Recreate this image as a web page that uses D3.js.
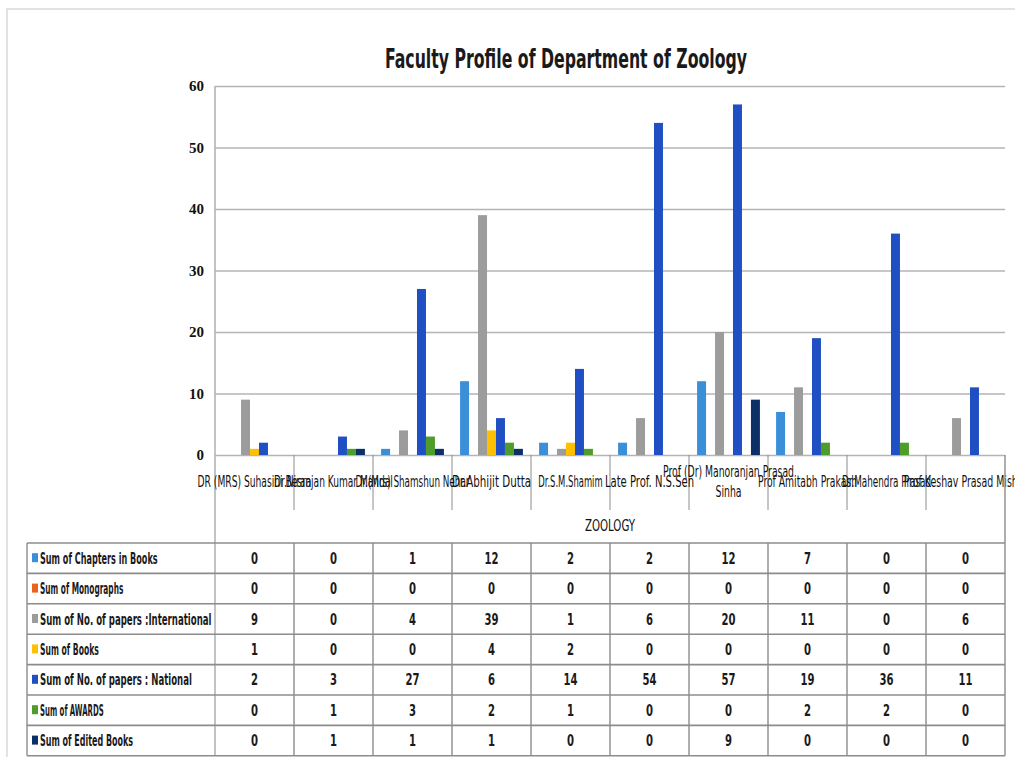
<!DOCTYPE html>
<html>
<head>
<meta charset="utf-8">
<script src="https://cdn.jsdelivr.net/npm/d3@7"></script>
<style>
  body { margin: 0; background: #fff; }
  svg { display: block; }
</style>
</head>
<body>
<svg id="chart"></svg>
<script>
// faculty names (x categories)
const faculty = [
  "DR (MRS) Suhasini Besra",
  "Dr.Niranjan Kumar Mandal",
  "Dr.(Mrs) Shamshun Nehar",
  "Dr.Abhijit Dutta",
  "Dr.S.M.Shamim",
  "Late Prof. N.S.Sen",
  "Prof (Dr) Manoranjan Prasad Sinha",
  "Prof Amitabh Prakash",
  "Dr.Mahendra Prasad",
  "Prof Keshav Prasad Mishra"
]
const seriesNames = [
  "Sum of Chapters in Books",
  "Sum of Monographs",
  "Sum of No. of papers :International",
  "Sum of Books",
  "Sum of No. of papers : National",
  "Sum of AWARDS",
  "Sum of Edited Books"
]
const seriesColours = ['#3b8ed8', '#e8641c', '#9c9c9c', '#ffc000', '#1f4fc2', '#4e9d2a', '#0c2f68']

const chapters      = [0, 0, 1, 12, 2, 2, 12, 7, 0, 0]
const monographs    = [0, 0, 0, 0, 0, 0, 0, 0, 0, 0]
const international = [9, 0, 4, 39, 1, 6, 20, 11, 0, 6]
const books         = [1, 0, 0, 4, 2, 0, 0, 0, 0, 0]
const national      = [2, 3, 27, 6, 14, 54, 57, 19, 36, 11]
const awards        = [0, 1, 3, 2, 1, 0, 0, 2, 2, 0]
const editedBooks   = [0, 1, 1, 1, 0, 0, 9, 0, 0, 0]
const seriesValues = [chapters, monographs, international, books, national, awards, editedBooks]

const yTicks = [0, 10, 20, 30, 40, 50, 60]

const width = 1015
const height = 757
const plot = { left: 215, right: 1005, top: 86, bottom: 455 }
const tableTop = 543
const tableLeft = 27
const rowH = 30.4
const gridColour = '#b4b4b4'
const lineColour = '#8c8c8c'
const narrow = "'DejaVu Sans Condensed', 'Liberation Sans Narrow', sans-serif"

const svg = d3.select("#chart")
  .attr("width", width)
  .attr("height", height)

// outer frame
svg.append("rect")
  .attr("x", 7).attr("y", 9)
  .attr("width", width + 20).attr("height", height + 20)
  .attr("fill", "none")
  .attr("stroke", "#e2e2e2")
  .attr("stroke-width", 2)

// title
svg.append("text")
  .attr("x", 566).attr("y", 68)
  .attr("text-anchor", "middle")
  .style("font-family", narrow)
  .attr("font-size", 26)
  .attr("font-weight", "bold")
  .attr("fill", "#1a1a1a")
  .attr("textLength", 362)
  .attr("lengthAdjust", "spacingAndGlyphs")
  .text("Faculty Profile of Department of Zoology")

/// Scales ///
const yScale = d3.scaleLinear().domain([0, 60]).range([plot.bottom, plot.top])
const x0 = d3.scaleBand().domain(faculty).range([plot.left, plot.right]).padding(0)
const x1 = d3.scaleBand().domain(d3.range(seriesNames.length))
  .range([0, x0.bandwidth()]).paddingInner(0).paddingOuter(0.9)

/// gridlines + y axis ///
const yAxis = g => g
  .attr("transform", `translate(${plot.left}, 0)`)
  .call(d3.axisLeft(yScale).tickValues(yTicks).tickSize(0).tickPadding(11))
  .call(g => g.select(".domain").remove())
  .call(g => g.selectAll(".tick line").clone()
    .attr("x2", plot.right - plot.left)
    .attr("stroke", gridColour)
    .attr("stroke-width", 1.6))
  .call(g => g.selectAll("text")
    .style("font-family", "'Liberation Serif', 'DejaVu Serif', serif")
    .style("font-weight", "bold")
    .style("font-size", "15px")
    .attr("fill", "#111"))

svg.append("g").call(yAxis)

// left vertical axis line all the way through the table
svg.append("line")
  .attr("x1", plot.left).attr("x2", plot.left)
  .attr("y1", plot.top).attr("y2", tableTop + rowH * 7)
  .attr("stroke", gridColour).attr("stroke-width", 1.6)

/// Bars ///
const barsG = svg.append("g")
seriesValues.forEach((vals, si) => {
  barsG.selectAll(`.bar-${si}`)
    .data(vals.map((v, i) => ({ name: faculty[i], v })).filter(d => d.v > 0))
    .join("rect")
    .attr("x", d => x0(d.name) + x1(si))
    .attr("y", d => yScale(d.v))
    .attr("width", x1.bandwidth())
    .attr("height", d => yScale(0) - yScale(d.v))
    .attr("fill", seriesColours[si])
})

/// category separators under the axis ///
faculty.slice(1).forEach(f => {
  svg.append("line")
    .attr("x1", x0(f)).attr("x2", x0(f))
    .attr("y1", plot.bottom).attr("y2", 510)
    .attr("stroke", lineColour).attr("stroke-width", 1)
})

// category labels (overlapping as in the original)
const labelG = svg.append("g")
  .style("font-family", narrow)
  .attr("font-size", 16)
  .attr("fill", "#111")
faculty.forEach(f => {
  const cx = x0(f) + x0.bandwidth() / 2
  if (f.startsWith("Prof (Dr)")) {
    const l1 = "Prof (Dr) Manoranjan Prasad"
    labelG.append("text").attr("x", cx).attr("y", 477).attr("text-anchor", "middle")
      .attr("textLength", l1.length * 4.85).attr("lengthAdjust", "spacingAndGlyphs").text(l1)
    labelG.append("text").attr("x", cx).attr("y", 497).attr("text-anchor", "middle")
      .attr("textLength", 5 * 5.2).attr("lengthAdjust", "spacingAndGlyphs").text("Sinha")
  } else {
    labelG.append("text").attr("x", cx).attr("y", 487).attr("text-anchor", "middle")
      .attr("textLength", f.length * 4.95).attr("lengthAdjust", "spacingAndGlyphs").text(f)
  }
})

labelG.append("text")
  .attr("x", (plot.left + plot.right) / 2).attr("y", 531)
  .attr("text-anchor", "middle")
  .attr("textLength", 50).attr("lengthAdjust", "spacingAndGlyphs")
  .text("ZOOLOGY")

/// Data table ///
const tableG = svg.append("g")
d3.range(8).forEach(r => {
  tableG.append("line")
    .attr("x1", tableLeft).attr("x2", plot.right)
    .attr("y1", tableTop + r * rowH).attr("y2", tableTop + r * rowH)
    .attr("stroke", lineColour).attr("stroke-width", 1.6)
})
const colEdges = [tableLeft].concat(faculty.slice(1).map(f => x0(f)), [plot.right])
colEdges.forEach(x => {
  tableG.append("line")
    .attr("x1", x).attr("x2", x)
    .attr("y1", x === plot.right ? plot.bottom : tableTop).attr("y2", tableTop + rowH * 7)
    .attr("stroke", lineColour).attr("stroke-width", 1.4)
})

seriesNames.forEach((s, si) => {
  const cy = tableTop + si * rowH + rowH / 2
  tableG.append("rect")
    .attr("x", 32).attr("y", cy - 5)
    .attr("width", 6).attr("height", 9)
    .attr("fill", seriesColours[si])
  tableG.append("text")
    .attr("x", 40).attr("y", cy + 5.5)
    .style("font-family", narrow)
    .attr("font-size", 16)
    .attr("font-weight", "bold")
    .attr("fill", "#1a1a1a")
    .attr("textLength", s.length * 4.9)
    .attr("lengthAdjust", "spacingAndGlyphs")
    .text(s)
  seriesValues[si].forEach((v, i) => {
    tableG.append("text")
      .attr("x", x0(faculty[i]) + x0.bandwidth() / 2)
      .attr("y", cy + 5.5)
      .attr("text-anchor", "middle")
      .style("font-family", narrow)
      .attr("font-size", 15)
      .attr("font-weight", "bold")
      .attr("fill", "#1a1a1a")
      .attr("textLength", String(v).length * 7)
      .attr("lengthAdjust", "spacingAndGlyphs")
      .text(v)
  })
})
</script>
</body>
</html>
